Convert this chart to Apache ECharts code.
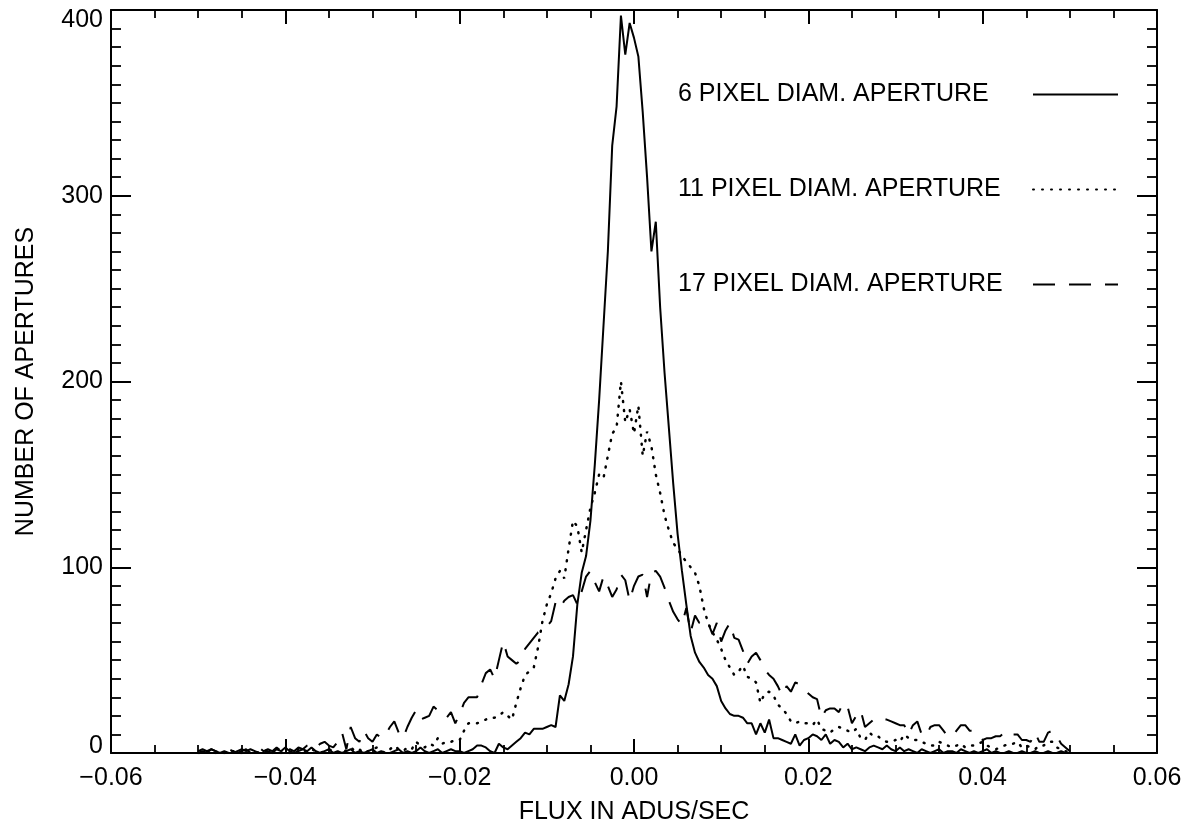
<!DOCTYPE html>
<html>
<head>
<meta charset="utf-8">
<script src="https://cdn.jsdelivr.net/npm/echarts@6.0.0/dist/echarts.min.js"></script>
<style>
  html, body { margin: 0; padding: 0; background: #fff; }
  #chart { width: 1197px; height: 834px; }
</style>
</head>
<body>
<div id="chart"></div>
<script>
var FONT = 'Liberation Sans';

// histogram bins: first bin centre and bin width (ADUs/sec)
var binStart = -0.05;
var binWidth = 0.0005;

var seriesNames = ['6 PIXEL DIAM. APERTURE', '11 PIXEL DIAM. APERTURE', '17 PIXEL DIAM. APERTURE'];

var xTicks = [-0.06, -0.04, -0.02, 0, 0.02, 0.04, 0.06];
var yTicks = [0, 100, 200, 300, 400];

// counts per bin
var ap6 = [
  1, 2, 1, 2, 1, 0, 1, 0, 0, 1,
  2, 1, 2, 1, 0, 0, 1, 0, 2, 1,
  3, 1, 0, 1, 2, 1, 3, 1, 0, 1,
  2, 0, 1, 0, 1, 2, 0, 1, 0, 1,
  2, 0, 1, 0, 0, 1, 2, 0, 1, 0,
  1, 3, 1, 0, 1, 2, 0, 1, 2, 1,
  1, 0, 1, 2, 4, 4, 3, 1, 0, 5,
  3, 2, 4, 6, 8, 11, 10, 13, 13, 13,
  14, 15, 14, 31, 28, 37, 52, 80, 97, 106,
  125, 155, 190, 230, 270, 327, 348, 397, 376, 393,
  385, 375, 345, 310, 270, 286, 240, 205, 175, 145,
  118, 98, 80, 63, 54, 49, 46, 42, 40, 36,
  28, 24, 21, 20, 20, 19, 16, 16, 10, 16,
  11, 18, 8, 8, 7, 6, 5, 10, 4, 7,
  8, 10, 9, 7, 10, 5, 7, 6, 3, 5,
  2, 3, 2, 1, 3, 4, 3, 2, 4, 2,
  1, 3, 1, 2, 1, 0, 2, 1, 0, 1,
  2, 0, 1, 1, 0, 2, 1, 0, 1, 0,
  1, 2, 0, 1, 0, 0, 1, 0, 0, 1,
  0, 0, 1, 0, 0, 1, 0, 0, 1, 0,
  0
];

var ap11 = [
  0, 0, 1, 0, 0, 1, 0, 0, 1, 0,
  0, 1, 0, 1, 0, 0, 2, 0, 1, 0,
  1, 0, 1, 2, 0, 1, 2, 1, 0, 1,
  2, 1, 0, 2, 1, 3, 1, 2, 0, 1,
  2, 3, 1, 0, 2, 4, 2, 1, 3, 2,
  6, 4, 3, 5, 4, 8, 5, 6, 6, 7,
  7, 12, 16, 16, 16, 17, 18, 19, 19, 20,
  22, 20, 18, 27, 35, 42, 44, 46, 57, 71,
  80, 86, 94, 98, 94, 110, 125, 122, 108, 120,
  132, 140, 150, 148, 160, 172, 175, 200, 178, 185,
  172, 187, 160, 173, 165, 150, 140, 128, 120, 113,
  110, 106, 103, 100, 97, 90, 78, 70, 65, 61,
  56, 50, 46, 42, 44, 47, 41, 40, 38, 27,
  32, 33, 31, 26, 24, 21, 17, 16, 17, 16,
  16, 15, 18, 13, 12, 11, 13, 14, 13, 12,
  11, 13, 8, 7, 11, 9, 9, 7, 6, 6,
  7, 6, 10, 8, 7, 7, 6, 5, 4, 4,
  6, 5, 4, 3, 4, 5, 3, 4, 4, 5,
  6, 4, 3, 2, 3, 4, 5, 5, 6, 3,
  4, 3, 2, 4, 4, 6, 6, 3, 2, 1,
  0
];

var ap17 = [
  0, 1, 0, 2, 1, 0, 1, 2, 1, 0,
  1, 2, 0, 1, 3, 1, 2, 1, 3, 1,
  4, 2, 1, 3, 2, 4, 5, 3, 5, 6,
  4, 3, 6, 11, 2, 14, 8, 6, 12, 8,
  6, 10, 8, 10, 14, 17, 11, 8, 14, 19,
  23, 18, 19, 20, 25, 23, 21, 19, 22, 16,
  21, 27, 30, 30, 30, 37, 43, 45, 40, 50,
  60, 52, 50, 48, 50, 56, 59, 62, 65, 66,
  68, 71, 81, 78, 82, 84, 85, 80, 87, 95,
  98, 92, 87, 95, 90, 84, 88, 96, 93, 82,
  90, 95, 96, 84, 97, 98, 95, 89, 82, 76,
  72, 69, 78, 65, 74, 70, 72, 70, 64, 70,
  60, 66, 70, 62, 61, 55, 48, 52, 54, 50,
  45, 42, 40, 36, 31, 36, 33, 38, 37, 35,
  32, 30, 29, 19, 23, 24, 24, 22, 27, 25,
  16, 20, 23, 14, 16, 18, 19, 18, 18, 17,
  16, 15, 15, 10, 15, 17, 10, 9, 14, 15,
  15, 12, 9, 9, 12, 15, 15, 12, 12, 9,
  7, 8, 8, 9, 9, 11, 12, 10, 10, 7,
  7, 6, 11, 6, 6, 11, 12, 9, 5, 3,
  1
];

function toPairs(counts) {
  var out = [];
  for (var i = 0; i < counts.length; i++) {
    out.push([+(binStart + i * binWidth).toFixed(5), counts[i]]);
  }
  return out;
}

function fmtX(v) {
  var s = Math.abs(v) < 1e-9 ? '0.00' : v.toFixed(2);
  return s.replace('-', '\u2212');
}

function fmtY(v) {
  if (v === yTicks[yTicks.length - 1]) return '{hi|' + v + '}';
  if (v === yTicks[0]) return '{lo|' + v + '}';
  return String(v);
}

var black = '#000';
var lineW = { color: black, width: 2 };

function xAxisOpt(pos, labels) {
  return {
    type: 'value',
    position: pos,
    min: xTicks[0],
    max: xTicks[xTicks.length - 1],
    interval: 0.02,
    axisLine: { show: true, onZero: false, lineStyle: lineW },
    axisTick: { show: true, inside: true, length: 14, lineStyle: lineW },
    minorTick: { show: true, splitNumber: 4, length: 8, lineStyle: { color: black, width: 1.8 } },
    splitLine: { show: false },
    axisLabel: {
      show: labels, margin: 13, color: black, fontSize: 25, fontFamily: FONT,
      formatter: fmtX
    },
    name: labels ? 'FLUX IN ADUS/SEC' : '',
    nameLocation: 'middle',
    nameGap: 47,
    nameTextStyle: { color: black, fontSize: 25, fontFamily: FONT }
  };
}

function yAxisOpt(pos, labels) {
  return {
    type: 'value',
    position: pos,
    min: yTicks[0],
    max: yTicks[yTicks.length - 1],
    interval: 100,
    axisLine: { show: true, onZero: false, lineStyle: lineW },
    axisTick: { show: true, inside: true, length: 20, lineStyle: lineW },
    minorTick: { show: true, splitNumber: 10, length: 10, lineStyle: { color: black, width: 1.8 } },
    splitLine: { show: false },
    axisLabel: {
      show: labels, margin: 8, color: black, fontSize: 25, fontFamily: FONT,
      formatter: fmtY,
      rich: {
        hi: { fontSize: 25, fontFamily: FONT, color: black, padding: [20, 0, 0, 0] },
        lo: { fontSize: 25, fontFamily: FONT, color: black, padding: [0, 0, 14, 0] }
      }
    },
    name: labels ? 'NUMBER OF APERTURES' : '',
    nameLocation: 'middle',
    nameRotate: 90,
    nameGap: 72,
    nameTextStyle: { color: black, fontSize: 25, fontFamily: FONT }
  };
}

var lineStyles = [
  { color: black, width: 2 },
  { color: black, width: 2.5, type: [1, 8], cap: 'round' },
  { color: black, width: 2, type: [22, 14] }
];

var counts = [ap6, ap11, ap17];
var series = [];
for (var k = 0; k < counts.length; k++) {
  series.push({
    name: seriesNames[k],
    type: 'line',
    data: toPairs(counts[k]),
    symbol: 'none',
    showSymbol: false,
    lineStyle: lineStyles[k],
    itemStyle: { color: black },
    clip: true,
    silent: true
  });
}

var option = {
  animation: false,
  backgroundColor: '#fff',
  grid: { left: 111, right: 40, top: 10, bottom: 81, containLabel: false },
  legend: {
    data: seriesNames,
    orient: 'vertical',
    left: 673,
    top: 77,
    align: 'right',
    itemWidth: 85,
    itemHeight: 14,
    itemGap: 70,
    selectedMode: false,
    // hide the symbol that line legends draw in the middle of the sample
    itemStyle: { opacity: 0 },
    formatter: function (name) {
      return '{t|' + name + '}';
    },
    textStyle: {
      color: black,
      fontSize: 25,
      fontFamily: FONT,
      rich: {
        t: { width: 350, align: 'left', fontSize: 25, lineHeight: 24, fontFamily: FONT, color: black }
      }
    }
  },
  xAxis: [xAxisOpt('bottom', true), xAxisOpt('top', false)],
  yAxis: [yAxisOpt('left', true), yAxisOpt('right', false)],
  series: series
};

var chart = echarts.init(document.getElementById('chart'));
chart.setOption(option);
</script>
</body>
</html>
